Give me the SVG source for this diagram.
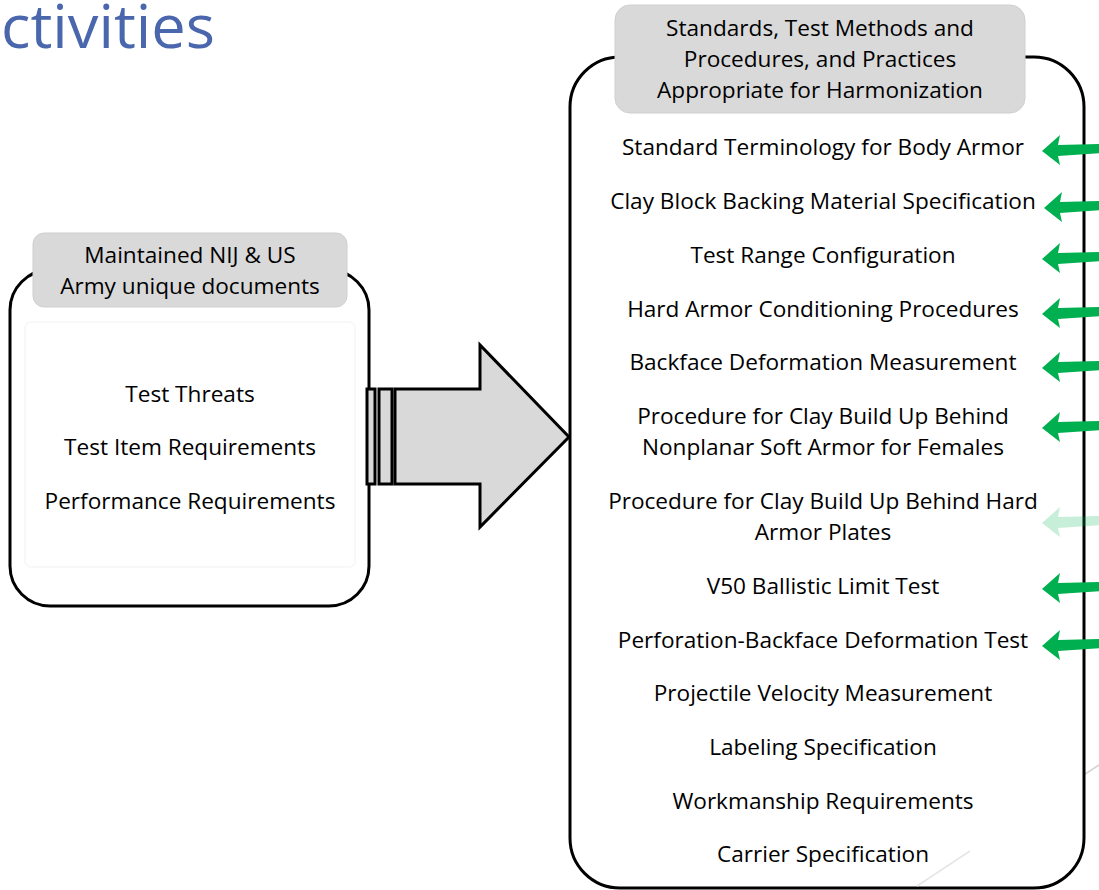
<svg xmlns="http://www.w3.org/2000/svg" width="1099" height="890" viewBox="0 0 1099 890">
<style>
.t{font-family:"Open Sans","Liberation Sans",sans-serif;font-size:22.6px;fill:#000;text-anchor:middle}
.box{fill:#fff;stroke:#000;stroke-width:3}
.hdr{fill:#D9D9D9;stroke:#cfcfcf;stroke-width:1}
.faint{fill:none;stroke:#f6f6f6;stroke-width:1.5}
.big{fill:#D9D9D9;stroke:#000;stroke-width:3;stroke-linejoin:miter}
.ga{fill:#00B050}
</style>
<defs>
<path id="ga" d="M0,0 L18,-16 L16,-6 L60,-7 L60,2 L16,5 L18,14 Z"/>
</defs>
<rect width="1099" height="890" fill="#fff"/>
<text x="1" y="48" font-family="Open Sans, Liberation Sans, sans-serif" font-size="60" fill="#4A67AD" textLength="214" lengthAdjust="spacingAndGlyphs">ctivities</text>
<line x1="1050" y1="797" x2="1099" y2="765" stroke="#d4d4d4" stroke-width="1.5"/>

<g id="left-node">
<rect class="box" x="10" y="270" width="359" height="336" rx="40"/>
<rect class="faint" x="25" y="322" width="330" height="245" rx="6"/>
<rect class="hdr" x="33" y="233" width="314" height="74" rx="11"/>
<text class="t" x="190" y="263">Maintained NIJ &amp; US</text>
<text class="t" x="190" y="294">Army unique documents</text>
<text class="t" x="190" y="402">Test Threats</text>
<text class="t" x="190" y="455">Test Item Requirements</text>
<text class="t" x="190" y="509">Performance Requirements</text>
</g>

<g id="right-node">
<rect class="box" x="570" y="57" width="514" height="831" rx="50"/>
<line x1="917" y1="886" x2="970" y2="851" stroke="#e6e6e6" stroke-width="1.5"/>
<rect class="hdr" x="615" y="5" width="410" height="108" rx="15"/>
<text class="t" x="820" y="36">Standards, Test Methods and</text>
<text class="t" x="820" y="67">Procedures, and Practices</text>
<text class="t" x="820" y="98">Appropriate for Harmonization</text>
<text class="t" x="823" y="155">Standard Terminology for Body Armor</text>
<text class="t" x="823" y="209">Clay Block Backing Material Specification</text>
<text class="t" x="823" y="263">Test Range Configuration</text>
<text class="t" x="823" y="317">Hard Armor Conditioning Procedures</text>
<text class="t" x="823" y="370">Backface Deformation Measurement</text>
<text class="t" x="823" y="424">Procedure for Clay Build Up Behind</text>
<text class="t" x="823" y="455">Nonplanar Soft Armor for Females</text>
<text class="t" x="823" y="509">Procedure for Clay Build Up Behind Hard</text>
<text class="t" x="823" y="540">Armor Plates</text>
<text class="t" x="823" y="594">V50 Ballistic Limit Test</text>
<text class="t" x="823" y="648">Perforation-Backface Deformation Test</text>
<text class="t" x="823" y="701">Projectile Velocity Measurement</text>
<text class="t" x="823" y="755">Labeling Specification</text>
<text class="t" x="823" y="809">Workmanship Requirements</text>
<text class="t" x="823" y="862">Carrier Specification</text>
</g>

<g id="connectors">
<g id="big-arrow">
<rect class="big" x="367" y="389" width="8" height="95"/>
<rect class="big" x="379" y="389" width="13" height="95"/>
<path class="big" d="M395,389 H480 V345 L569,437 L480,527 V484 H395 Z"/>
</g>
<g id="green-arrows" class="ga">
<use href="#ga" x="1042" y="151"/>
<use href="#ga" x="1044" y="208"/>
<use href="#ga" x="1042" y="259"/>
<use href="#ga" x="1042" y="314"/>
<use href="#ga" x="1042" y="368"/>
<use href="#ga" x="1042" y="428"/>
<use href="#ga" x="1042" y="523" opacity="0.22"/>
<use href="#ga" x="1042" y="589"/>
<use href="#ga" x="1042" y="646"/>
</g>
</g>
</svg>
